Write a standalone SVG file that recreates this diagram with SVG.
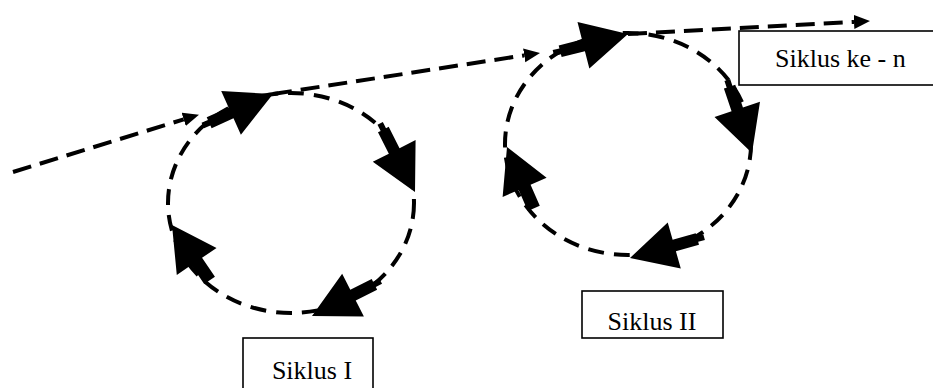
<svg xmlns="http://www.w3.org/2000/svg" xmlns:xlink="http://www.w3.org/1999/xlink" width="933" height="388" viewBox="0 0 933 388">
<style>
.line{fill:none;stroke:#000;stroke-width:4;stroke-dasharray:19 9}
.circ{fill:none;stroke:#000;stroke-width:4;stroke-dasharray:16 10}
.box{fill:#fff;stroke:#000;stroke-width:1.6}
.lbl{font-family:"Liberation Serif","Times New Roman",serif;font-size:26px;fill:#000}
.arr{fill:#000}
</style>
<defs>
<marker id="head" markerUnits="userSpaceOnUse" markerWidth="18" markerHeight="16" viewBox="0 -8 18 16" refX="0" refY="0" orient="auto">
<path d="M0,-7 L16,0 L0,7 Z" fill="#000"/>
</marker>
<path id="big" d="M0,0 L-46,-24 L-46,-6 L-70,-6 L-70,-3 L-77,-3 L-77,3 L-70,3 L-70,6 L-46,6 L-46,24 Z"/>
<path id="bigShort" d="M0,0 L-44,-24 L-44,-6.5 L-67,-6.5 L-67,6.5 L-44,6.5 L-44,24 Z"/>
</defs>
<g id="connectors">
<ellipse id="cycle1-path" class="circ" cx="291" cy="203" rx="123" ry="110"/>
<ellipse id="cycle2-path" class="circ" cx="628" cy="144" rx="123" ry="111"/>
<path class="line" d="M13,172 L183.7,119.4" marker-end="url(#head)"/>
<path class="line" d="M273,94 L524.2,55.4" marker-end="url(#head)"/>
<path class="line" d="M628,34 L854,21.9" marker-end="url(#head)"/>
<g class="arr">
<use xlink:href="#big" transform="translate(273,94) rotate(-24.2)"/>
<use xlink:href="#big" transform="translate(415,192) rotate(63.1)"/>
<use xlink:href="#big" transform="translate(312,316) rotate(153.1)"/>
<use xlink:href="#bigShort" transform="translate(172,225) rotate(-124.1)"/>
<use xlink:href="#big" transform="translate(628,34) rotate(-14.3)"/>
<use xlink:href="#big" transform="translate(752,153) rotate(71.3)"/>
<use xlink:href="#big" transform="translate(630,258) rotate(164.2)"/>
<use xlink:href="#bigShort" transform="translate(507,147) rotate(-113.6)"/>
</g>
</g>
<g id="siklus-n">
<rect class="box" x="739" y="31" width="210" height="54"/>
<text class="lbl" x="775" y="67">Siklus ke - n</text>
</g>
<g id="siklus-2">
<rect class="box" x="582" y="291" width="141" height="47"/>
<text class="lbl" x="652" y="330" text-anchor="middle">Siklus II</text>
</g>
<g id="siklus-1">
<rect class="box" x="243" y="338" width="130" height="60"/>
<text class="lbl" x="312" y="379" text-anchor="middle">Siklus I</text>
</g>
</svg>
